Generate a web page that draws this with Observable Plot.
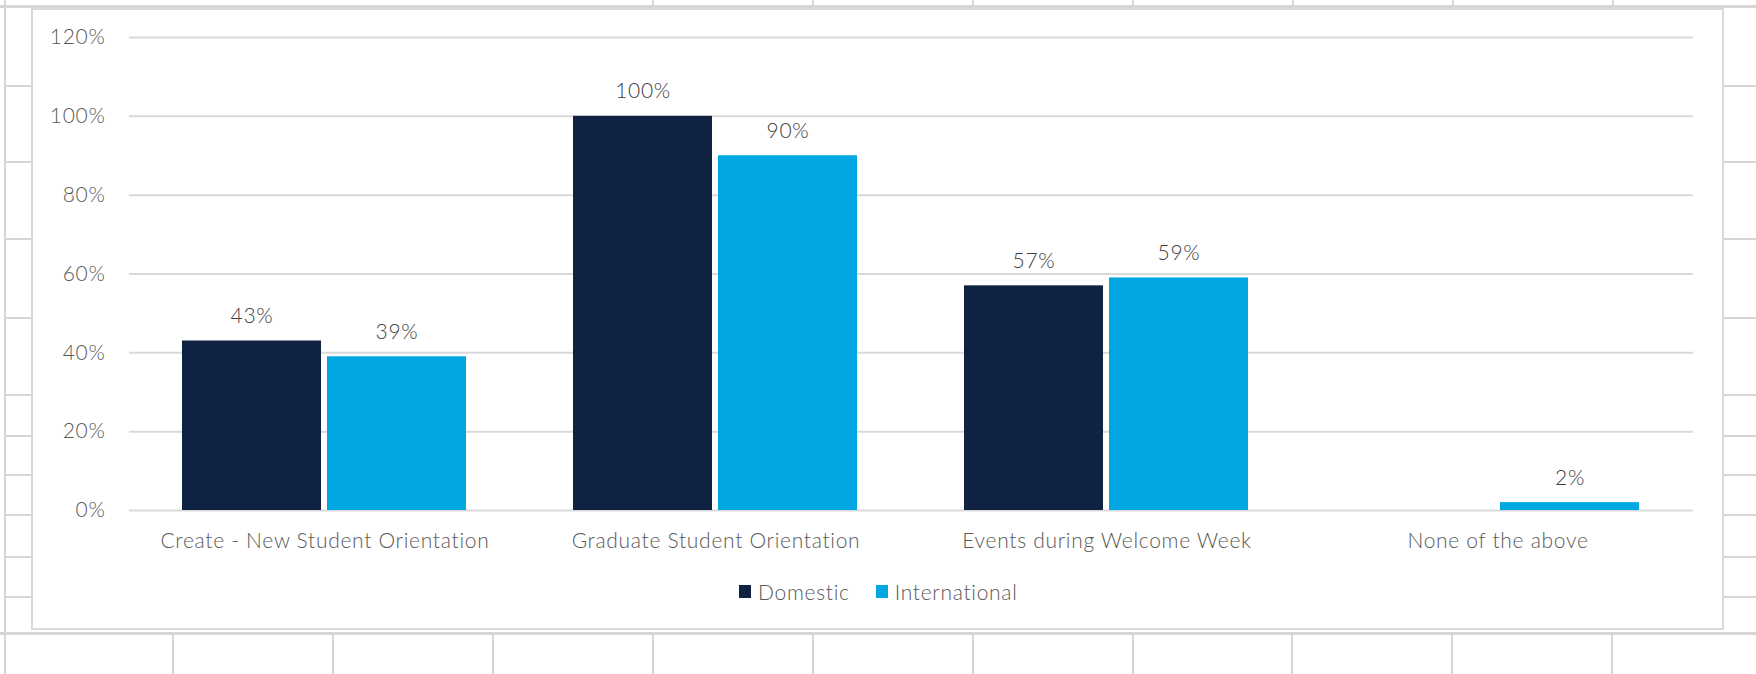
<!DOCTYPE html>
<html>
<head>
<meta charset="utf-8">
<script src="https://cdn.jsdelivr.net/npm/d3@7"></script>
<script src="https://cdn.jsdelivr.net/npm/@observablehq/plot@0.6"></script>
<style>
  html, body { margin: 0; padding: 0; background: #fff; }
  #page { position: relative; width: 1756px; height: 674px; overflow: hidden; background: #fff; font-family: Lato, "Open Sans", sans-serif; }
  .cell { position: absolute; background: #d6d6d6; }
  #box { position: absolute; left: 31px; top: 8px; width: 1689px; height: 618px; border: 2px solid #d9d9d9; background: #fff; }
  #chart { position: absolute; left: 0; top: 0; width: 1756px; }
  #legend { display: flex; justify-content: flex-start; align-items: center; margin-left: 739px; margin-top: 15px; font-size: 21px; font-weight: 300; letter-spacing: 0.7px; color: #595959; height: 22px; }
  #legend .sw { width: 12px; height: 13px; display: inline-block; margin-right: 7px; }
  #legend .item { display: flex; align-items: center; margin-right: 26px; }
  #chart svg text { font-weight: 300; letter-spacing: 0.7px; }
</style>
</head>
<body>
<div id="page">
  <div id="box"></div>
  <div id="chart"></div>
</div>
<script>
// ---- data ----
const categories = ["Create - New Student Orientation", "Graduate Student Orientation", "Events during Welcome Week", "None of the above"];
const series = ["Domestic", "International"];
const domestic = [0.43, 1.00, 0.57, null];
const international = [0.39, 0.90, 0.59, 0.02];
const yTicks = [0, 0.2, 0.4, 0.6, 0.8, 1.0, 1.2];
const colors = ["#0f2242", "#00a7e1"];

// ---- decorative spreadsheet cell lines (background only) ----
const page = document.getElementById("page");
function line(l, t, w, h) {
  const d = document.createElement("div");
  d.className = "cell";
  d.style.left = l + "px"; d.style.top = t + "px"; d.style.width = w + "px"; d.style.height = h + "px";
  page.insertBefore(d, page.firstChild);
}
line(4, 0, 2, 674);
line(0, 5, 1756, 3);
line(0, 632, 1756, 3);
[85, 161, 238, 317, 394, 435, 474, 514, 556, 596].forEach(y => { line(4, y, 28, 2); line(1724, y, 32, 2); });
[172, 332, 492, 652, 812, 972, 1132, 1291, 1451, 1611].forEach(x => line(x, 633, 2, 41));
[652, 812, 972, 1132, 1292, 1452, 1612].forEach(x => line(x, 0, 2, 7));

// ---- table ----
const rows = [];
categories.forEach((c, i) => {
  if (domestic[i] != null) rows.push({category: c, series: series[0], value: domestic[i]});
  if (international[i] != null) rows.push({category: c, series: series[1], value: international[i]});
});

const fmt = d3.format(".0%");

const chart = Plot.plot({
  width: 1756,
  height: 565,
  marginLeft: 129,
  marginRight: 63,
  marginTop: 37,
  marginBottom: 55,
  style: { fontFamily: "Lato, 'Open Sans', sans-serif", fontSize: "21px", color: "#595959", background: "transparent" },
  fx: { domain: categories, paddingInner: 0, paddingOuter: 0, label: null },
  x: { domain: series, paddingInner: 0.041, paddingOuter: 0.36, axis: null },
  y: { domain: [0, 1.2], label: null },
  color: { domain: series, range: colors },
  marks: [
    Plot.ruleY(yTicks, { stroke: "#d9d9d9", strokeWidth: 2 }),
    Plot.axisY({ ticks: yTicks, tickFormat: fmt, tickSize: 0, tickPadding: 24, label: null, fill: "#595959" }),
    Plot.axisFx({ anchor: "bottom", tickSize: 0, tickPadding: 23, label: null, fill: "#595959" }),
    Plot.barY(rows, { fx: "category", x: "series", y: "value", fill: "series" }),
    Plot.text(rows, { fx: "category", x: "series", y: "value", text: d => fmt(d.value), lineAnchor: "bottom", dy: -18, fill: "#404040" })
  ]
});

const holder = document.getElementById("chart");
holder.appendChild(chart);

const legend = document.createElement("div");
legend.id = "legend";
series.forEach((s, i) => {
  const it = document.createElement("span");
  it.className = "item";
  const sw = document.createElement("span");
  sw.className = "sw";
  sw.style.background = colors[i];
  it.appendChild(sw);
  it.appendChild(document.createTextNode(s));
  legend.appendChild(it);
});
holder.appendChild(legend);
</script>
</body>
</html>
